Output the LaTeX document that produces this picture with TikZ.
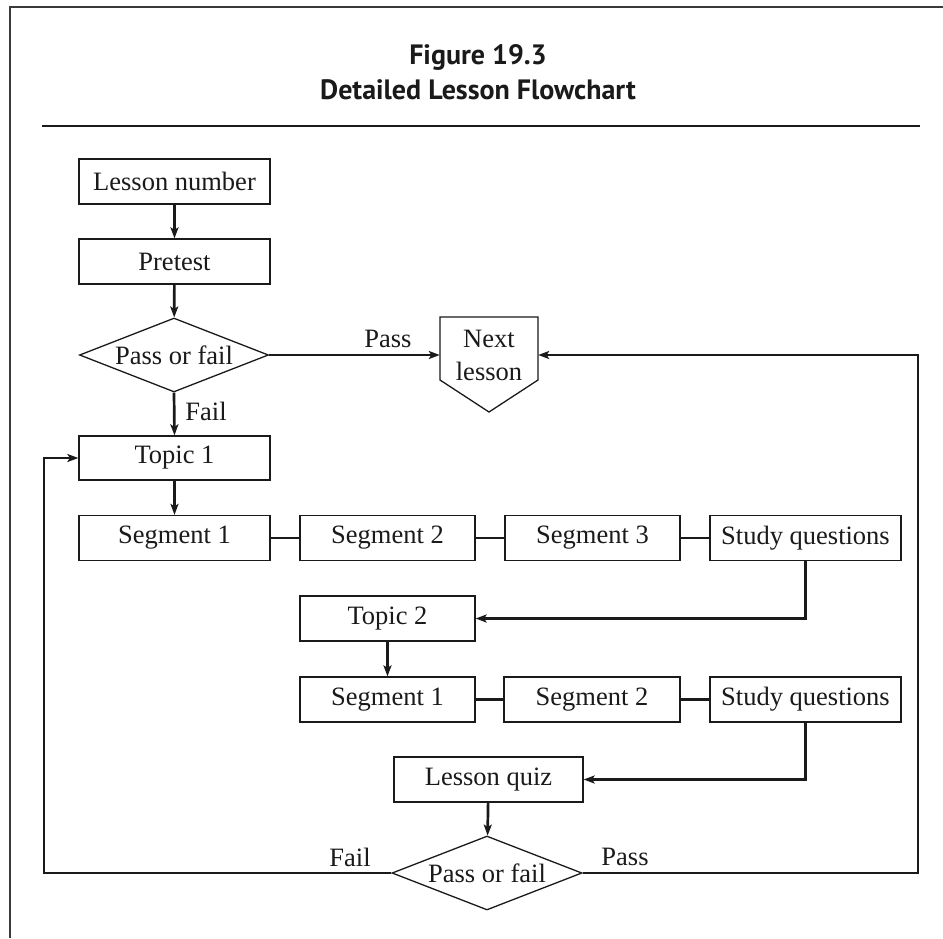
\documentclass[tikz,border=0pt]{standalone}
\usepackage{fontspec}
\setmainfont{Liberation Serif}
\newfontfamily\titlefont{PT Sans}
\usetikzlibrary{shapes.geometric,arrows.meta,calc}
\definecolor{ink}{HTML}{1A1A1A}
\definecolor{framegray}{HTML}{3A3A3A}
\begin{document}
\begin{tikzpicture}[x=1pt,y=-1pt,
  every node/.style={font=\fontsize{26.5}{33}\selectfont, text=ink, inner sep=0pt},
  box/.style={draw=ink, line width=1.3pt, minimum height=45pt},
  decision/.style={draw=ink, line width=1.3pt, diamond, shape aspect=2.6,
                   minimum width=189pt, minimum height=74pt},
  link/.style={draw=ink, line width=2.7pt},
  flow/.style={link, -{Stealth[length=11pt,width=8pt,inset=2.5pt]}},
  lbl/.style={font=\fontsize{26.5}{30}\selectfont},
  titletext/.style={font=\titlefont\bfseries\fontsize{28}{33}\selectfont, anchor=base}
]
% canvas and page frame
\fill[white] (0,0) rectangle (943,938);
\useasboundingbox (0,0) rectangle (943,938);
\draw[framegray, line width=2pt] (10,938) -- (10,7) -- (943,7);

% heading
\node[titletext] (title1) at (478,64) {Figure 19.3};
\node[titletext] (title2) at (478,99) {Detailed Lesson Flowchart};
\draw[ink, line width=2.3pt] (42,126) -- (920,126);

% opening steps
\node[box, minimum width=191pt] (lnum) at (174.5,181.5) {Lesson number};
\node[box, minimum width=191pt] (pre)  at (174.5,261.5) {Pretest};
\node[decision] (d1) at (174,355) {Pass or fail};

% next lesson (off-page connector)
\node[minimum width=98pt, align=center] (next) at (489,355) {Next\\lesson};
\draw[ink, line width=1.3pt] (440,317) -- (538,317) -- (538,380) -- (489,412) -- (440,380) -- cycle;

% topic 1
\node[box, minimum width=191pt, minimum height=44pt] (t1) at (174.5,458) {Topic 1};
\node[box, minimum width=191pt] (s11) at (174.5,538) {Segment 1};
\node[box, minimum width=175pt] (s12) at (387.5,538) {Segment 2};
\node[box, minimum width=175pt] (s13) at (592.5,538) {Segment 3};
\node[box, minimum width=191pt] (q1)  at (805.5,538) {Study questions};

% topic 2
\node[box, minimum width=175pt] (t2)  at (387.5,618.5) {Topic 2};
\node[box, minimum width=175pt] (s21) at (387.5,699.5) {Segment 1};
\node[box, minimum width=176pt] (s22) at (592,699.5) {Segment 2};
\node[box, minimum width=191pt] (q2)  at (805.5,699.5) {Study questions};

% quiz
\node[box, minimum width=189pt] (quiz) at (488.5,779.5) {Lesson quiz};
\node[decision, minimum width=190pt] (d2) at (487,873) {Pass or fail};

\coordinate (loopL) at (44,873);
\coordinate (loopR) at (918,873);

% connectors
\draw[flow] (lnum) -- (pre);
\draw[flow] (pre) -- (d1);
\draw[flow] (d1.east) -- (next.west);
\draw[flow] (d1.south) -- (t1.north);
\draw[flow] (t1) -- (s11);
\draw[link] (s11) -- (s12);
\draw[link] (s12) -- (s13);
\draw[link] (s13) -- (q1);
\draw[flow] (q1.south) |- (t2.east);
\draw[flow] (t2) -- (s21);
\draw[link] (s21) -- (s22);
\draw[link] (s22) -- (q2);
\draw[flow] (q2.south) |- (quiz.east);
\draw[flow] (quiz) -- (d2);
\draw[flow] (d2.west) -- (loopL) |- (t1.west);
\draw[flow] (d2.east) -- (loopR) |- (next.east);

% branch labels
\node[lbl] (pass1) at (388,339) {Pass};
\node[lbl] (fail1) at (206,411) {Fail};
\node[lbl] (fail2) at (350,857) {Fail};
\node[lbl] (pass2) at (625,857) {Pass};
\end{tikzpicture}
\end{document}
